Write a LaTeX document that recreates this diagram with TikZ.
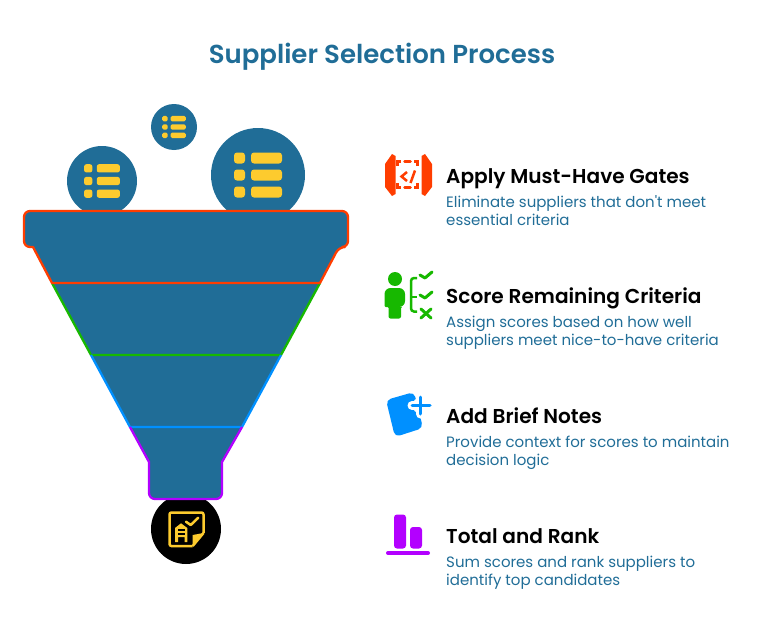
\documentclass[tikz,border=0pt]{standalone}
\usepackage{fontspec}
\setmainfont{Poppins}[BoldFont={Poppins SemiBold}]
\usetikzlibrary{positioning}

\definecolor{funnelblue}{HTML}{206D97}
\definecolor{listyellow}{HTML}{FDCB2E}
\definecolor{gatered}{HTML}{FF3D00}
\definecolor{scoregreen}{HTML}{17B800}
\definecolor{noteblue}{HTML}{0090FF}
\definecolor{rankpurple}{HTML}{B300FF}

% yellow list inside a circle
\newcommand{\listicon}[2]{
    \begin{scope}[shift={(#1)}, scale=#2]
        \foreach \row in {-17, 0, 17} {
            \fill[listyellow, rounded corners=#2*3pt] (-24,\row-5.5) rectangle (-13,\row+5.5);
            \fill[listyellow, rounded corners=#2*3pt] (-7,\row-5.5) rectangle (24,\row+5.5);
        }
    \end{scope}
}

\begin{document}
\begin{tikzpicture}[x=1pt, y=-1pt,
    ball node/.style={circle, fill=funnelblue, inner sep=0pt},
    head node/.style={anchor=west, inner sep=0pt, text height=14pt, text depth=4pt, font=\fontsize{20.1}{22}\selectfont\bfseries},
    note node/.style={anchor=north west, inner sep=0pt, align=left, text=funnelblue, font=\fontsize{15}{18}\selectfont},
    band/.style={line width=2.3pt, line join=round}]

    \useasboundingbox (0,0) rectangle (781,618);

    \node[text=funnelblue, inner sep=0pt, font=\fontsize{26}{28}\selectfont\bfseries] (title) at (382,57) {Supplier Selection Process};

    % Balls
    \node[ball node, minimum size=46pt] (small) at (174,127) {};
    \node[ball node, minimum size=70pt] (left) at (102,181) {};
    \node[ball node, minimum size=94pt] (big) at (258,175) {};
    \node[circle, fill=black, inner sep=0pt, minimum size=70pt] (out) at (186,529) {};

    \listicon{small}{0.49}
    \listicon{left}{0.745}
    \listicon{big}{1}

    % Funnel
    \fill[funnelblue] (52,283) -- (33,247) [rounded corners=6pt] -- (24,247) -- (24,211) -- (348,211) -- (348,247) -- (339,247) [sharp corners] -- (320,283) -- cycle;
    \fill[funnelblue] (52,283) -- (130,427) -- (242,427) -- (320,283) -- cycle;
    \fill[funnelblue] (130,427) -- (149,462) [rounded corners=6pt] -- (149,499) -- (222,499) [sharp corners] -- (222,462) -- (242,427) -- cycle;

    \foreach \x/\y/\xx/\yy/\col in {52/283/91/355/scoregreen, 91/355/130/427/noteblue} {
        \draw[band, \col] (\x,\y) -- (\xx,\yy) -- (372-\xx,\yy) -- (372-\x,\y);
    }
    \draw[band, rankpurple] (130,427) -- (149,462) [rounded corners=6pt] -- (149,499) -- (222,499) [sharp corners] -- (222,462) -- (242,427);
    \draw[band, gatered] (52,283) -- (33,247) [rounded corners=6pt] -- (24,247) -- (24,211) -- (348,211) -- (348,247) -- (339,247) [sharp corners] -- (320,283) -- cycle;

    % Output icon
    \draw[listyellow, line width=2.5pt, rounded corners=2pt] (192.7,546) -- (169.5,546) -- (169.5,512.5) -- (203.5,512.5) -- (203.5,533);
    \draw[listyellow, line width=2.5pt, line join=round] (203.5,533) -- (192.7,546);
    \fill[listyellow] (192.7,546) -- (192.7,535) -- (203.5,533) -- cycle;
    \draw[listyellow, line width=2.5pt, line cap=round, line join=round] (186,521.7) -- (190.7,525) -- (198.3,517.7);
    \fill[listyellow] (175,542) -- (175,528) -- (181,523.3) -- (187.3,528) -- (187.3,542) -- (184.5,542) -- (184.5,537) -- (178,537) -- (178,542) -- cycle;
    \fill[black] (178,529) rectangle (184.5,530.5);
    \fill[black] (178,533) rectangle (184.5,534.5);

    % Labels
    \node[head node] (gates) at (446,178) {Apply Must-Have Gates};
    \node[note node] (gatesnote) [below=8.5pt of gates.south west, anchor=north west] {Eliminate suppliers that don\textquotesingle t meet\\essential criteria};

    \node[head node] (score) [below=120pt of gates.west, anchor=west] {Score Remaining Criteria};
    \node[note node] (scorenote) [below=8.5pt of score.south west, anchor=north west] {Assign scores based on how well\\suppliers meet nice-to-have criteria};

    \node[head node] (notes) [below=120pt of score.west, anchor=west] {Add Brief Notes};
    \node[note node] (notesnote) [below=8.5pt of notes.south west, anchor=north west] {Provide context for scores to maintain\\decision logic};

    \node[head node] (rank) [below=120pt of notes.west, anchor=west] {Total and Rank};
    \node[note node] (ranknote) [below=8.5pt of rank.south west, anchor=north west] {Sum scores and rank suppliers to\\identify top candidates};

    % Gate icon
    \fill[gatered] (385,164) -- (392,154) -- (395.5,156) -- (395.5,194) -- (392,196) -- (385,187) -- cycle;
    \fill[gatered] (432,164) -- (425,154) -- (421.5,156) -- (421.5,194) -- (425,196) -- (432,187) -- cycle;
    \foreach \sx/\sy in {-1/-1, 1/-1, -1/1, 1/1} {
        \draw[gatered, line width=2.5pt] (407.5+\sx*10.2,174.7+\sy*8.5) -- (407.5+\sx*10.2,174.7+\sy*13) -- (407.5+\sx*6.5,174.7+\sy*13);
    }
    \foreach \sy in {-1, 1} {
        \draw[gatered, line width=2.5pt, line cap=round] (404.5,174.7+\sy*13) -- (410.5,174.7+\sy*13);
    }
    \draw[gatered, line width=2.5pt] (407,172) -- (401.5,176.5) -- (407,181);
    \draw[gatered, line width=2.5pt] (415,170.5) -- (410.5,183);

    % Score icon
    \fill[scoregreen] (395,279) circle (7pt);
    \fill[scoregreen, rounded corners=6pt] (384.5,307) -- (384.5,288) -- (405,288) -- (405,307) [rounded corners=1pt] -- (401,307) [rounded corners=2pt] -- (401,318.5) -- (388.5,318.5) [rounded corners=1pt] -- (388.5,307) -- cycle;
    \draw[scoregreen, line width=2.5pt, rounded corners=3pt] (417,278) -- (411,278) -- (411,311.5) -- (417,311.5);
    \draw[scoregreen, line width=2.5pt] (411,297) -- (417,297);
    \foreach \y in {0, 20} {
        \draw[scoregreen, line width=3pt, line cap=round, line join=round] (420,275+\y) -- (425,278+\y) -- (432,272+\y);
    }
    \draw[scoregreen, line width=3pt, line cap=round] (421,309) -- (431,318);
    \draw[scoregreen, line width=3pt, line cap=round] (431,309) -- (421,318);

    % Note icon
    \fill[noteblue, rounded corners=5pt] (386,400) -- (414,392) -- (423,428) -- (395,437) -- cycle;
    \fill[white] (420.5,405.5) circle (8pt);
    \draw[white, line width=9pt, line cap=round] (412,405.5) -- (432,405.5);
    \draw[white, line width=9pt, line cap=round] (420.5,397) -- (420.5,414);
    \draw[noteblue, line width=3pt, line cap=round] (412,405.5) -- (430,405.5);
    \draw[noteblue, line width=3pt, line cap=round] (420.5,397) -- (420.5,414);

    % Rank icon
    \fill[rankpurple, rounded corners=3pt] (394,514.5) rectangle (406,548.5);
    \fill[rankpurple, rounded corners=3pt] (410,527) rectangle (422,548.5);
    \draw[rankpurple, line width=4pt, line cap=round] (388,553) -- (428,553);
\end{tikzpicture}
\end{document}
